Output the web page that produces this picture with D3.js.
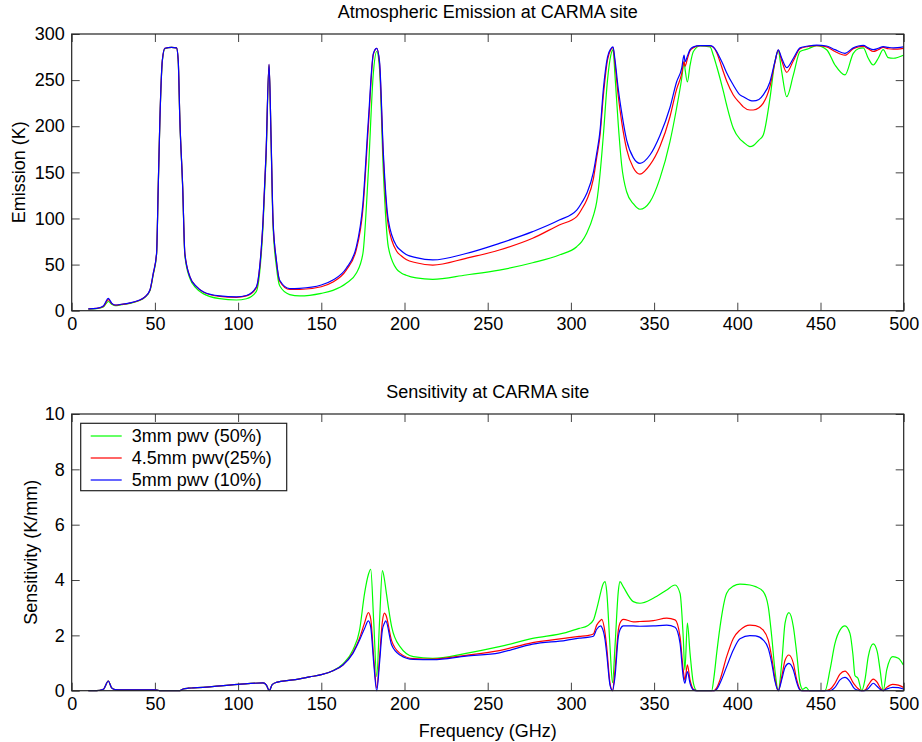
<!DOCTYPE html>
<html>
<head>
<meta charset="utf-8">
<script src="https://cdn.jsdelivr.net/npm/d3@7/dist/d3.min.js"></script>
<style>
  html, body { margin: 0; padding: 0; background: #fff; }
  svg { display: block; font-family: "Liberation Sans", Arial, Helvetica, sans-serif; }
</style>
</head>
<body>
<svg id="chart" width="922" height="742"></svg>
<script>
// ---- Atmospheric emission (K) vs frequency (GHz) ----
const freqEmission = [10, 15, 19, 22, 24, 26, 30, 35, 40, 44, 47, 49, 51, 52, 53, 54.5, 56, 60, 63, 64, 65, 66.7, 68, 71, 75, 79, 89, 99, 105, 111, 113, 115, 116.8, 118.6, 119.8, 121, 123, 125, 131, 137, 150, 157, 165, 171, 175, 178.3, 181.3, 183.3, 185, 187.3, 190.3, 195.3, 198, 201, 207, 217, 237, 257, 277, 293, 303.5, 306.5, 309.5, 313.5, 315.5, 317.5, 319.5, 322, 324, 325.3, 326.5, 328.5, 330.5, 333.5, 337.5, 341.5, 347.5, 353.5, 359.5, 363.5, 366.6, 368, 368.6, 370, 371.6, 373.6, 377.6, 383.6, 385.6, 387.6, 389.6, 391.6, 393.6, 397.6, 401.6, 403.6, 407.6, 409.6, 413, 415.6, 419.6, 422.6, 424.6, 426.7, 429.7, 433.7, 437.7, 442.7, 447.7, 453.7, 458.7, 464.7, 469.7, 472.7, 475.7, 478.7, 481.7, 484.7, 487.7, 490.7, 493.8, 499.8];
const emission3mm = [1.8, 2.3, 4, 10, 7, 5.5, 6.5, 8, 10.5, 14.5, 21.5, 39, 61, 133, 206, 271, 284, 285.5, 285, 271, 206, 133, 60, 35, 24, 18.5, 13, 11.6, 13, 21, 42, 92, 165, 266, 185, 92, 48, 27, 17.5, 16, 18.8, 22, 29.7, 40.5, 62, 152, 258, 281, 262, 150, 69, 45, 41, 38.5, 35.5, 34, 38.7, 44, 52, 60.4, 69.4, 75, 84, 103, 118, 148, 190, 250, 277, 283, 255, 201, 158, 129, 116, 110, 118, 143.5, 183, 219.5, 252, 270, 262, 248, 266, 281, 287, 286, 277, 265, 252, 238, 223, 197.8, 186, 183, 178, 179, 185, 190.5, 230, 270, 281.5, 259, 232, 255.6, 281, 284, 287.5, 283, 266.4, 255.6, 279, 284, 285, 273.7, 266.4, 273.7, 283, 274.4, 273.7, 277];
const emission45mm = [2, 2.5, 4.6, 12, 7.8, 6, 6.8, 8.3, 10.8, 14.8, 22, 40, 62, 134, 207, 272, 284.5, 285.5, 285, 272, 207, 134, 62, 37, 26, 20.3, 15.5, 14.5, 16, 25, 47, 97, 170, 267, 188, 97, 54, 32, 23, 23, 26, 31, 44, 66, 110, 200, 278, 284.5, 268, 165, 92, 64.5, 59.5, 55.5, 52, 49.5, 56.8, 65.8, 78.5, 93, 102, 110, 120, 143, 166, 190, 233, 272, 283, 285.5, 268, 232, 205, 175, 155, 148, 158, 178, 210, 240, 257, 270, 265, 273, 282, 285, 287.3, 287, 285.5, 280, 270, 259, 249, 233.9, 225, 221, 217.6, 217.6, 220, 225, 243, 269, 282.5, 271, 258.5, 271, 284, 286.5, 287.5, 286, 281, 277, 284, 286, 286.5, 284, 281, 283, 285.5, 284, 283.5, 284.5];
const emission5mm = [2, 2.5, 5, 13.4, 8.2, 6.2, 7, 8.5, 11, 15, 22.4, 40.5, 62, 134, 207, 272, 284.5, 285.5, 285, 272, 207, 134, 62, 37, 26, 20.6, 16, 15, 16.5, 26, 48, 98, 170.6, 267.5, 189, 98, 55, 33, 24, 24.3, 27.9, 33.3, 46, 69, 116, 207, 279, 284.5, 270, 170.6, 98, 70, 65, 61, 57.5, 55, 62, 73, 85.7, 98.3, 109, 117, 127, 150, 170.6, 195, 240, 275, 284, 286, 272, 240, 215, 185, 166, 159.8, 168.8, 190, 220, 248, 263, 277, 270, 276, 283, 286, 287.3, 287.3, 286, 281, 274, 266.4, 258, 244.7, 234, 232, 228, 227.4, 229, 234, 248, 270, 282.7, 273.7, 263.5, 273.7, 285, 287, 288, 287, 283, 279, 285, 287, 287.7, 285, 283, 284.5, 286.3, 285.5, 285, 286];

// ---- Sensitivity (K/mm) vs frequency (GHz) ----
const freqSensitivity = [10, 15, 19, 22, 24, 26, 30, 40, 50, 52, 53, 65, 67, 70, 73, 100, 115, 117, 118.75, 120.5, 123, 133, 143, 150, 157, 163, 169, 173, 176, 178.3, 179.7, 181.5, 183.3, 185, 186.7, 188, 188.7, 192.3, 197.3, 205.3, 217, 237, 257, 277, 297, 305, 310, 313.5, 315.5, 317.9, 318.5, 320.5, 321.5, 323.5, 325, 326.5, 328.5, 329.5, 331.5, 337.5, 341.5, 349.5, 357.6, 362.6, 365.6, 367.5, 368.5, 370, 371.6, 373.6, 375.6, 384.6, 386, 387.6, 389.6, 393.6, 397.6, 401.6, 407.6, 411, 415.6, 418.6, 420.7, 422.6, 424.6, 426.7, 428.7, 431, 433.7, 435.7, 437.7, 439.3, 441.3, 443.3, 452.7, 455.7, 458.7, 461.7, 464.7, 467.7, 469.5, 470.7, 472.5, 474.8, 476.7, 478.7, 481.7, 484.1, 485.8, 487.7, 489.8, 493.4, 496.8, 499.8];
const sensitivity3mm = [0, 0, 0.05, 0.35, 0.1, 0.04, 0.03, 0.03, 0.03, 0.01, 0, 0, 0.06, 0.09, 0.1, 0.23, 0.28, 0.2, 0, 0.22, 0.3, 0.39, 0.5, 0.58, 0.72, 0.97, 1.47, 2.19, 3.52, 4.2, 4.39, 2.5, 0.51, 2.5, 4.34, 4.0, 3.7, 2.31, 1.59, 1.23, 1.17, 1.35, 1.59, 1.89, 2.1, 2.25, 2.35, 2.55, 2.95, 3.55, 3.7, 3.94, 3.6, 1.6, 0.29, 1.6, 3.6, 3.94, 3.75, 3.22, 3.16, 3.34, 3.64, 3.82, 3.52, 1.95, 0.75, 2.44, 1.35, 0.27, 0, 0, 0.5, 1.35, 2.3, 3.52, 3.78, 3.85, 3.82, 3.76, 3.58, 3.04, 1.95, 0.75, 0, 0.99, 2.44, 2.82, 2.31, 1.35, 0.27, 0.05, 0.12, 0, 0, 0.75, 1.71, 2.19, 2.34, 2.07, 1.3, 0.55, 0.45, 0, 0.39, 1.23, 1.69, 1.41, 0.75, 0, 0.75, 1.23, 1.17, 0.93];
const sensitivity45mm = [0, 0, 0.05, 0.35, 0.1, 0.04, 0.03, 0.03, 0.03, 0.01, 0, 0, 0.06, 0.09, 0.1, 0.23, 0.28, 0.2, 0, 0.22, 0.3, 0.39, 0.5, 0.58, 0.72, 0.93, 1.38, 1.9, 2.45, 2.82, 2.6, 1.2, 0.1, 1.2, 2.5, 2.8, 2.75, 1.8, 1.35, 1.16, 1.14, 1.28, 1.45, 1.74, 1.9, 1.96, 1.99, 2.05, 2.37, 2.55, 2.58, 2.1, 1.59, 0.27, 0, 0.75, 2.19, 2.45, 2.58, 2.49, 2.5, 2.53, 2.62, 2.56, 1.95, 0.75, 0.39, 0.93, 0.39, 0.05, 0, 0, 0, 0.1, 0.39, 1.23, 1.89, 2.19, 2.37, 2.35, 2.19, 1.83, 1.2, 0.45, 0, 0.5, 1.1, 1.29, 0.99, 0.4, 0.05, 0, 0, 0, 0, 0.05, 0.27, 0.6, 0.71, 0.51, 0.3, 0.2, 0.08, 0, 0.02, 0.2, 0.42, 0.3, 0.12, 0, 0.12, 0.23, 0.2, 0.12];
const sensitivity5mm = [0, 0, 0.05, 0.35, 0.1, 0.04, 0.03, 0.03, 0.03, 0.01, 0, 0, 0.06, 0.09, 0.1, 0.23, 0.28, 0.2, 0, 0.22, 0.3, 0.39, 0.5, 0.58, 0.72, 0.93, 1.35, 1.83, 2.25, 2.52, 2.3, 1.0, 0, 1.0, 2.2, 2.45, 2.52, 1.65, 1.29, 1.13, 1.12, 1.25, 1.37, 1.68, 1.82, 1.9, 1.93, 1.97, 2.22, 2.34, 2.3, 1.85, 1.35, 0.2, 0, 0.51, 1.95, 2.2, 2.34, 2.34, 2.33, 2.34, 2.37, 2.29, 1.71, 0.51, 0.27, 0.69, 0.27, 0.03, 0, 0, 0, 0.05, 0.27, 0.87, 1.47, 1.88, 1.99, 1.98, 1.83, 1.53, 1.0, 0.35, 0, 0.4, 0.85, 0.99, 0.75, 0.3, 0.02, 0, 0, 0, 0, 0, 0.12, 0.39, 0.48, 0.33, 0.15, 0.06, 0.02, 0, 0, 0.08, 0.27, 0.15, 0.05, 0, 0.06, 0.12, 0.11, 0.06];

// ---- Axis ticks and labels ----
const freqTicks = [0, 50, 100, 150, 200, 250, 300, 350, 400, 450, 500];
const emissionTicks = [0, 50, 100, 150, 200, 250, 300];
const sensitivityTicks = [0, 2, 4, 6, 8, 10];
const seriesNames = ["3mm pwv (50%)", "4.5mm pwv(25%)", "5mm pwv (10%)"];
const seriesColors = ["#00ff00", "#ff0000", "#0000ff"];

const svg = d3.select("#chart");
const FONT = 18;
const left = 71.7, right = 903.7;

function drawPanel(cfg) {
  const x = d3.scaleLinear().domain([0, 500]).range([left, right]);
  const y = d3.scaleLinear().domain(cfg.yDomain).range([cfg.bottom, cfg.top]);
  const g = svg.append("g");

  // inward ticks on all four sides
  const bottomAxis = g.append("g").attr("transform", `translate(0,${cfg.bottom})`)
    .call(d3.axisBottom(x).tickValues(freqTicks).tickSize(-8).tickPadding(7).tickFormat(d3.format("d")));
  const topAxis = g.append("g").attr("transform", `translate(0,${cfg.top})`)
    .call(d3.axisTop(x).tickValues(freqTicks).tickSize(-8).tickFormat(""));
  const leftAxis = g.append("g").attr("transform", `translate(${left},0)`)
    .call(d3.axisLeft(y).tickValues(cfg.yTicks).tickSize(-8).tickPadding(7).tickFormat(d3.format("d")));
  const rightAxis = g.append("g").attr("transform", `translate(${right},0)`)
    .call(d3.axisRight(y).tickValues(cfg.yTicks).tickSize(-8).tickFormat(""));

  [bottomAxis, topAxis, leftAxis, rightAxis].forEach(a => {
    a.select(".domain").remove();
    a.selectAll(".tick line").attr("stroke", "#444").attr("stroke-width", 1);
    a.selectAll(".tick text").attr("fill", "#000").style("font-size", FONT + "px")
      .style("font-family", '"Liberation Sans", Arial, sans-serif');
  });
  bottomAxis.selectAll(".tick text").attr("dy", "0.71em");

  // series lines
  const lineGen = d3.line()
    .x(d => x(d[0])).y(d => y(d[1]))
    .curve(d3.curveMonotoneX);
  cfg.series.forEach((vals, i) => {
    const pts = cfg.freq.map((f, k) => [f, vals[k]]);
    g.append("path").datum(pts)
      .attr("d", lineGen)
      .attr("fill", "none")
      .attr("stroke", seriesColors[i])
      .attr("stroke-width", 1.2)
      .attr("stroke-linejoin", "round");
  });

  // frame
  g.append("rect")
    .attr("x", left).attr("y", cfg.top)
    .attr("width", right - left).attr("height", cfg.bottom - cfg.top)
    .attr("fill", "none").attr("stroke", "#222").attr("stroke-width", 1.2);

  // title
  g.append("text")
    .attr("x", (left + right) / 2).attr("y", cfg.titleY)
    .attr("text-anchor", "middle").style("font-size", FONT + "px")
    .text(cfg.title);

  // y label
  g.append("text")
    .attr("transform", `translate(${cfg.yLabelX},${(cfg.top + cfg.bottom) / 2}) rotate(-90)`)
    .attr("text-anchor", "middle").style("font-size", FONT + "px")
    .text(cfg.yLabel);

  return { x, y, g };
}

drawPanel({
  top: 34, bottom: 310.7, yDomain: [0, 300], yTicks: emissionTicks,
  freq: freqEmission, series: [emission3mm, emission45mm, emission5mm],
  title: "Atmospheric Emission at CARMA site", titleY: 18,
  yLabel: "Emission (K)", yLabelX: 25
});

drawPanel({
  top: 414, bottom: 690.7, yDomain: [0, 10], yTicks: sensitivityTicks,
  freq: freqSensitivity, series: [sensitivity3mm, sensitivity45mm, sensitivity5mm],
  title: "Sensitivity at CARMA site", titleY: 398,
  yLabel: "Sensitivity (K/mm)", yLabelX: 37
});

// x label
svg.append("text")
  .attr("x", (left + right) / 2).attr("y", 737)
  .attr("text-anchor", "middle").style("font-size", FONT + "px")
  .text("Frequency (GHz)");

// legend
const legend = svg.append("g");
legend.append("rect")
  .attr("x", 80.7).attr("y", 423.3).attr("width", 206).attr("height", 67.4)
  .attr("fill", "#fff").attr("stroke", "#222").attr("stroke-width", 1.2);
seriesNames.forEach((name, i) => {
  const cy = 436 + i * 22;
  legend.append("line")
    .attr("x1", 90.7).attr("x2", 121.7).attr("y1", cy).attr("y2", cy)
    .attr("stroke", seriesColors[i]).attr("stroke-width", 1.2);
  legend.append("text")
    .attr("x", 131.7).attr("y", cy).attr("dy", "0.36em")
    .style("font-size", FONT + "px")
    .text(name);
});
</script>
</body>
</html>
